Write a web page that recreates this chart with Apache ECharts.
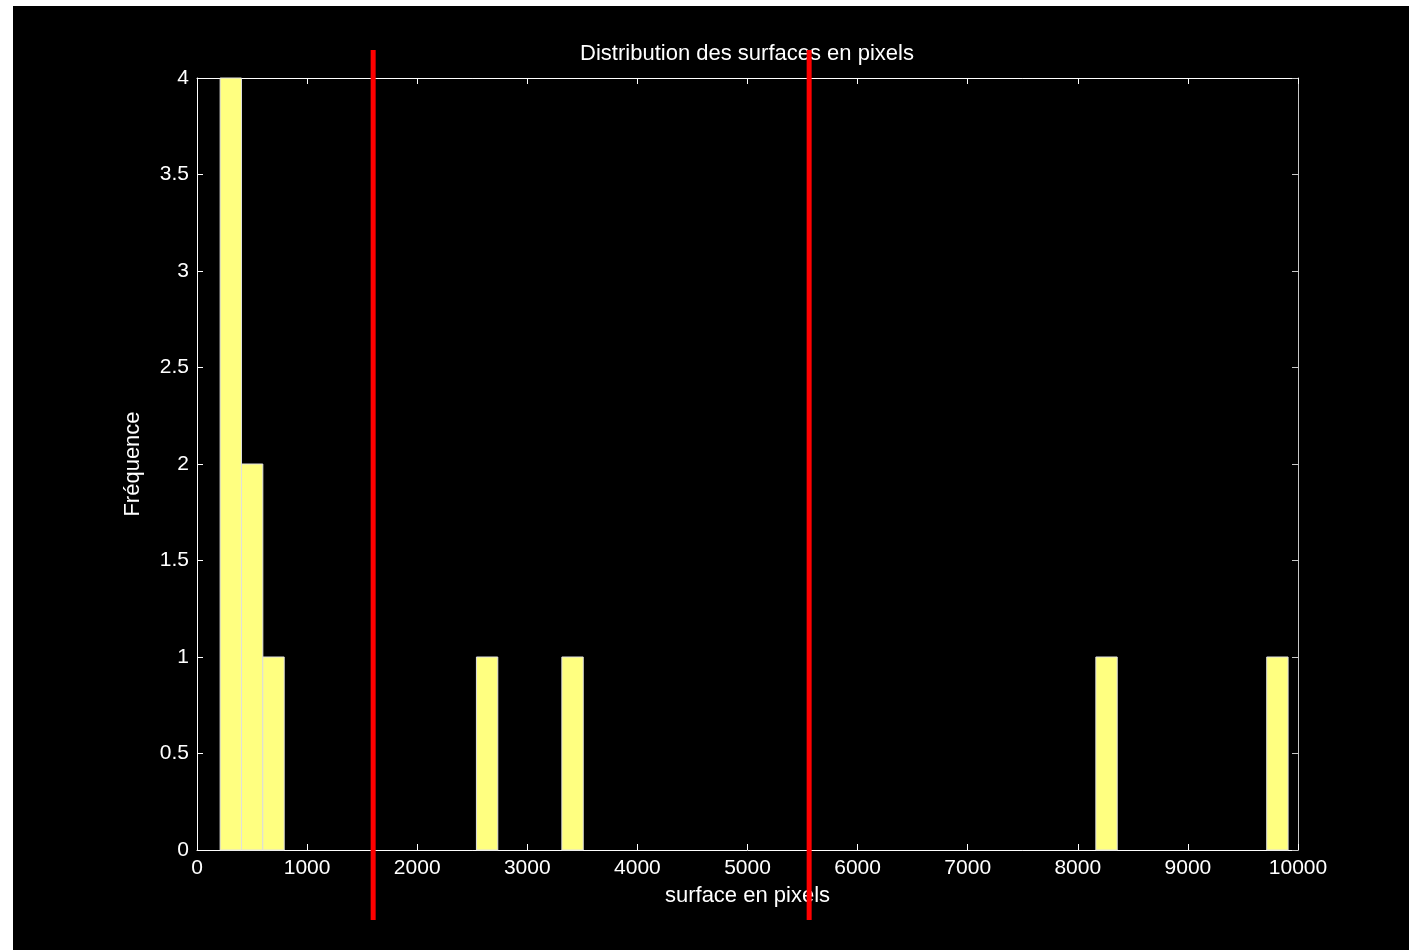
<!DOCTYPE html>
<html>
<head>
<meta charset="utf-8">
<script src="https://cdn.jsdelivr.net/npm/echarts@6/dist/echarts.min.js"></script>
<style>
html,body{margin:0;padding:0;background:#ffffff;width:1409px;height:950px;overflow:hidden;}
#chart{position:absolute;left:13px;top:6px;width:1396px;height:944px;background:#000000;}
</style>
</head>
<body>
<div id="chart"></div>
<script>
// Histogram bins (left edge, right edge) and counts
var binStarts = [210, 404, 598, 2538, 3314, 8164, 9716];
var binEnds   = [404, 598, 792, 2732, 3508, 8358, 9910];
var counts    = [4, 2, 1, 1, 1, 1, 1];
// Red vertical threshold lines (x positions)
var thresholds = [1600, 5560];
var thresholdYRange = [-0.363, 4.145];
var xTicks = [0,1000,2000,3000,4000,5000,6000,7000,8000,9000,10000];
var yTicks = [0,0.5,1,1.5,2,2.5,3,3.5,4];

var font = 'Liberation Sans, Arial, sans-serif';
var chart = echarts.init(document.getElementById('chart'), null, {renderer:'canvas'});

var barData = binStarts.map(function(s,i){ return [s, binEnds[i], counts[i]]; });
var lineData = thresholds.map(function(x){ return [x, thresholdYRange[0], thresholdYRange[1]]; });

function common(color){
  return {
    axisLine:{show:true, onZero:false, lineStyle:{color:color, width:1}},
    axisTick:{show:true, inside:true, length:6, lineStyle:{color:color}},
    splitLine:{show:false}
  };
}

chart.setOption({
  backgroundColor:'#000000',
  animation:false,
  title:{
    text:'Distribution des surfaces en pixels',
    left:729, top:32, textAlign:'center',
    textStyle:{color:'#ffffff', fontFamily:font, fontSize:22, fontWeight:'normal'}
  },
  grid:{left:184, right:111, top:72, bottom:100, containLabel:false},
  xAxis:[
    Object.assign({type:'value', min:0, max:10000, interval:1000, position:'bottom',
      name:'surface en pixels', nameLocation:'middle', nameGap:35,
      nameTextStyle:{color:'#ffffff', fontFamily:font, fontSize:22},
      axisLabel:{color:'#ffffff', fontFamily:font, fontSize:21, margin:8,
        formatter:function(v){ return xTicks.indexOf(v)>=0 ? String(v) : ''; }}
    }, common('#ffffff')),
    Object.assign({type:'value', min:0, max:10000, interval:1000, position:'top',
      axisLabel:{show:false}}, common('#ffffff'))
  ],
  yAxis:[
    Object.assign({type:'value', min:0, max:4, interval:0.5, position:'left',
      name:'Fréquence', nameLocation:'middle', nameGap:53, nameRotate:90,
      nameTextStyle:{color:'#ffffff', fontFamily:font, fontSize:22},
      axisLabel:{color:'#ffffff', fontFamily:font, fontSize:21, margin:8,
        formatter:function(v){ return yTicks.indexOf(v)>=0 ? String(v) : ''; }}
    }, common('#ffffff')),
    Object.assign({type:'value', min:0, max:4, interval:0.5, position:'right',
      axisLabel:{show:false}}, common('#c8c8c8'))
  ],
  series:[
    {
      type:'custom',
      xAxisIndex:0, yAxisIndex:0,
      data:barData,
      encode:{x:[0,1], y:2},
      renderItem:function(params, api){
        var p0 = api.coord([api.value(0), 0]);
        var p1 = api.coord([api.value(1), api.value(2)]);
        return {
          type:'rect',
          shape:{x:p0[0], y:p1[1], width:p1[0]-p0[0], height:p0[1]-p1[1]},
          style:{fill:'#ffff80', stroke:'#e0e0e0', lineWidth:1}
        };
      },
      z:2
    },
    {
      type:'custom',
      xAxisIndex:0, yAxisIndex:0,
      data:lineData,
      clip:false,
      encode:{x:0, y:[1,2]},
      renderItem:function(params, api){
        var a = api.coord([api.value(0), api.value(1)]);
        var b = api.coord([api.value(0), api.value(2)]);
        return {
          type:'line',
          shape:{x1:a[0], y1:a[1], x2:b[0], y2:b[1]},
          style:{stroke:'#ff0000', lineWidth:5}
        };
      },
      z:10
    }
  ]
});
</script>
</body>
</html>
